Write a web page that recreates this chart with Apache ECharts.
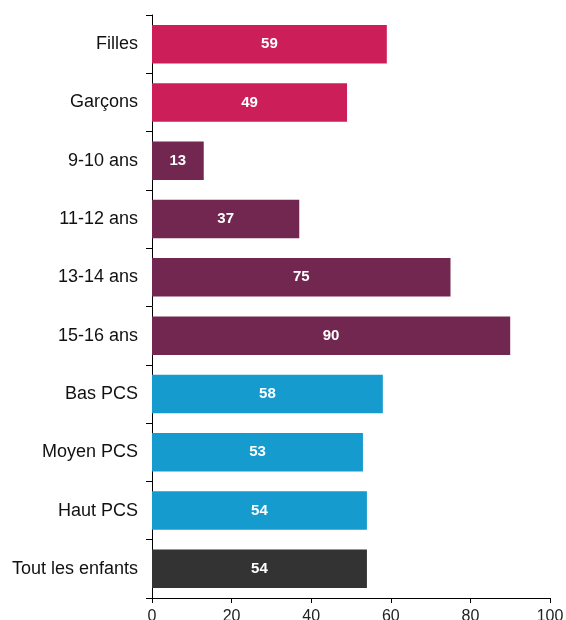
<!DOCTYPE html>
<html>
<head>
<meta charset="utf-8">
<script src="https://cdn.jsdelivr.net/npm/echarts@6/dist/echarts.min.js"></script>
<style>html,body{margin:0;padding:0;background:#fff}#c{width:566px;height:620px}</style>
</head>
<body>
<div id="c"></div>
<script>
var categories = ["Filles", "Garçons", "9-10 ans", "11-12 ans", "13-14 ans", "15-16 ans", "Bas PCS", "Moyen PCS", "Haut PCS", "Tout les enfants"];
var values = [59, 49, 13, 37, 75, 90, 58, 53, 54, 54];
var groupColors = ["#CC1F5A", "#CC1F5A", "#722750", "#722750", "#722750", "#722750", "#159BCE", "#159BCE", "#159BCE", "#333333"];
var xTicks = [0, 20, 40, 60, 80, 100];

var chart = echarts.init(document.getElementById('c'), null, {renderer: 'canvas'});
chart.setOption({
  animation: false,
  grid: {left: 152, right: 16, top: 15, bottom: 22, containLabel: false, outerBoundsMode: 'none'},
  xAxis: {
    type: 'value', min: xTicks[0], max: xTicks[xTicks.length - 1], interval: 20,
    axisLine: {show: true, lineStyle: {color: '#000', width: 1}},
    axisTick: {show: true, length: 5, lineStyle: {color: '#000'}},
    splitLine: {show: false},
    axisLabel: {color: '#222', fontSize: 16, fontFamily: 'Liberation Sans, Arial, sans-serif', margin: 11}
  },
  yAxis: {
    type: 'category', data: categories, inverse: true,
    axisLine: {show: true, lineStyle: {color: '#000', width: 1}},
    axisTick: {show: true, length: 6, inside: false, alignWithLabel: false, lineStyle: {color: '#000'}},
    axisLabel: {color: '#111', fontSize: 18, fontFamily: 'Liberation Sans, Arial, sans-serif', margin: 14}
  },
  series: [{
    type: 'bar',
    data: values.map(function (v, i) { return {value: v, itemStyle: {color: groupColors[i]}}; }),
    barWidth: '66%',
    label: {show: true, position: 'inside', color: '#fff', fontWeight: 'bold', fontSize: 15, fontFamily: 'Liberation Sans, Arial, sans-serif'}
  }]
});
</script>
</body>
</html>
